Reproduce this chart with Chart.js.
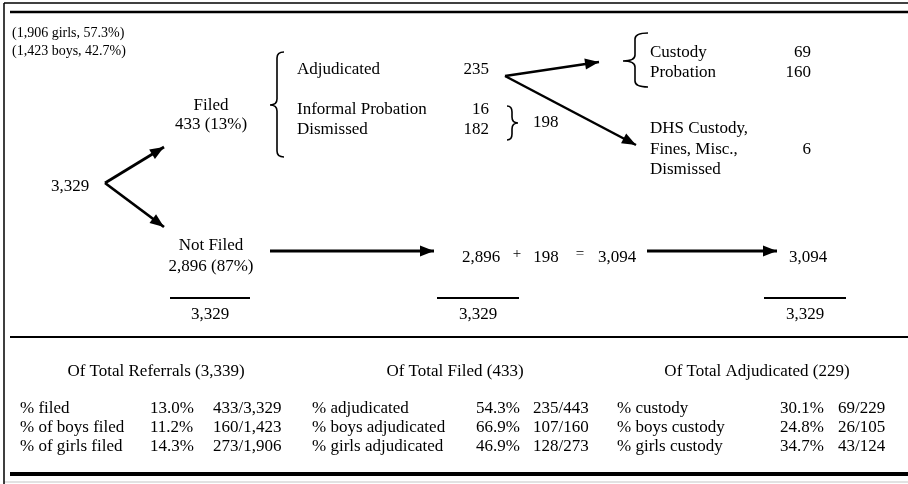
<!DOCTYPE html>
<html>
<head>
<meta charset="utf-8">
<script src="https://cdn.jsdelivr.net/npm/chart.js@4.4.0/dist/chart.umd.min.js"></script>
<style>
html, body { margin: 0; padding: 0; background: #fff; }
</style>
</head>
<body>
<canvas id="g_flujo" width="908" height="484"></canvas>
<script>
// datos
var total_referrals = 3329;
var girls = [1906, 57.3];
var boys = [1423, 42.7];
var filed = [433, 13];
var not_filed = [2896, 87];
var filed_labels = ['Adjudicated', 'Informal Probation', 'Dismissed'];
var filed_counts = [235, 16, 182];
var not_adjudicated = 198;
var adj_labels = ['Custody', 'Probation'];
var adj_counts = [69, 160];
var other_labels = ['DHS Custody,', 'Fines, Misc.,', 'Dismissed'];
var other_count = 6;
var out_of_system = 3094;

var section_titles = ['Of Total Referrals (3,339)', 'Of Total Filed (433)', 'Of Total Adjudicated (229)'];
var row_labels = [
    ['% filed', '% of boys filed', '% of girls filed'],
    ['% adjudicated', '% boys adjudicated', '% girls adjudicated'],
    ['% custody', '% boys custody', '% girls custody']
];
var row_pcts = [
    ['13.0%', '11.2%', '14.3%'],
    ['54.3%', '66.9%', '46.9%'],
    ['30.1%', '24.8%', '34.7%']
];
var row_fracs = [
    ['433/3,329', '160/1,423', '273/1,906'],
    ['235/443', '107/160', '128/273'],
    ['69/229', '26/105', '43/124']
];

function fmt(n) { return n.toLocaleString('en-US'); }

// lineas y flechas (coordenadas del lienzo = valores de las escalas)
function seg(x1, y1, x2, y2, w, color, arrow) {
    return {
        data: [{x: x1, y: y1}, {x: x2, y: y2}],
        showLine: true,
        borderColor: color || '#000',
        borderWidth: w,
        pointRadius: 0,
        arrow: !!arrow
    };
}

var datasets = [
    seg(4, 3, 908, 3, 1.5),
    seg(10, 12, 908, 12, 2.5),
    seg(4, 3, 4, 484, 1.5),
    seg(10, 337, 908, 337, 2),
    seg(10, 474, 908, 474, 4),
    seg(4, 482, 908, 482, 1.5, '#d8d8d8'),
    seg(105, 183, 164, 147, 2.8, '#000', true),
    seg(105, 183, 164, 227, 2.8, '#000', true),
    seg(505, 76, 599, 62, 2.5, '#000', true),
    seg(505, 76, 636, 145, 2.5, '#000', true),
    seg(270, 251, 434, 251, 2.8, '#000', true),
    seg(647, 251, 777, 251, 2.8, '#000', true),
    seg(170, 298, 250, 298, 2),
    seg(437, 298, 519, 298, 2),
    seg(764, 298, 846, 298, 2)
];

var textos = {
    id: 'textos',
    afterDatasetsDraw: function (chart) {
        var c = chart.ctx;
        var xs = chart.scales.x;
        var ys = chart.scales.y;
        var F = 'Liberation Serif, Times New Roman, serif';

        function t(str, x, y, align, size) {
            c.font = (size || 17) + 'px ' + F;
            c.textAlign = align || 'left';
            c.textBaseline = 'middle';
            c.fillStyle = '#000';
            c.fillText(str, xs.getPixelForValue(x), ys.getPixelForValue(y));
        }

        function brace(spine, tip, hook, top, bottom, mid) {
            var X = function (v) { return xs.getPixelForValue(v); };
            var Y = function (v) { return ys.getPixelForValue(v); };
            var r = 6;
            c.beginPath();
            c.moveTo(X(hook), Y(top));
            c.quadraticCurveTo(X(spine), Y(top), X(spine), Y(top + r));
            c.lineTo(X(spine), Y(mid - r));
            c.quadraticCurveTo(X(spine), Y(mid), X(tip), Y(mid));
            c.quadraticCurveTo(X(spine), Y(mid), X(spine), Y(mid + r));
            c.lineTo(X(spine), Y(bottom - r));
            c.quadraticCurveTo(X(spine), Y(bottom), X(hook), Y(bottom));
            c.strokeStyle = '#000';
            c.lineWidth = 1.6;
            c.stroke();
        }

        c.save();

        // puntas de flecha
        chart.data.datasets.forEach(function (ds) {
            if (!ds.arrow) return;
            var a = ds.data[0], b = ds.data[1];
            var x1 = xs.getPixelForValue(a.x), y1 = ys.getPixelForValue(a.y);
            var x2 = xs.getPixelForValue(b.x), y2 = ys.getPixelForValue(b.y);
            var ang = Math.atan2(y2 - y1, x2 - x1);
            var L = 14, W = 5.5;
            c.beginPath();
            c.moveTo(x2, y2);
            c.lineTo(x2 - L * Math.cos(ang) + W * Math.sin(ang), y2 - L * Math.sin(ang) - W * Math.cos(ang));
            c.lineTo(x2 - L * Math.cos(ang) - W * Math.sin(ang), y2 - L * Math.sin(ang) + W * Math.cos(ang));
            c.closePath();
            c.fillStyle = '#000';
            c.fill();
        });

        // llaves
        brace(277, 270, 284, 52, 157, 105);
        brace(635, 623, 648, 33, 87, 61);
        brace(512, 518, 507, 106, 140, 123);

        // diagrama
        t('(' + fmt(girls[0]) + ' girls, ' + girls[1] + '%)', 12, 33, 'left', 14);
        t('(' + fmt(boys[0]) + ' boys, ' + boys[1] + '%)', 12, 51, 'left', 14);
        t(fmt(total_referrals), 70, 187, 'center');
        t('Filed', 211, 106, 'center');
        t(fmt(filed[0]) + ' (' + filed[1] + '%)', 211, 125, 'center');
        t('Not Filed', 211, 246, 'center');
        t(fmt(not_filed[0]) + ' (' + not_filed[1] + '%)', 211, 267, 'center');

        var fy = [70, 110, 130];
        for (var i = 0; i < filed_labels.length; i++) {
            t(filed_labels[i], 297, fy[i], 'left');
            t(fmt(filed_counts[i]), 489, fy[i], 'right');
        }
        t(fmt(not_adjudicated), 533, 123, 'left');

        var ay = [53, 73];
        for (var j = 0; j < adj_labels.length; j++) {
            t(adj_labels[j], 650, ay[j], 'left');
            t(fmt(adj_counts[j]), 811, ay[j], 'right');
        }
        var oy = [129, 150, 170];
        for (var k = 0; k < other_labels.length; k++) {
            t(other_labels[k], 650, oy[k], 'left');
        }
        t(fmt(other_count), 811, 150, 'right');

        t(fmt(not_filed[0]), 481, 258, 'center');
        t('+', 517, 254, 'center', 15);
        t(fmt(not_adjudicated), 546, 258, 'center');
        t('=', 580, 254, 'center', 15);
        t(fmt(out_of_system), 617, 258, 'center');
        t(fmt(out_of_system), 808, 258, 'center');

        t(fmt(total_referrals), 210, 315, 'center');
        t(fmt(total_referrals), 478, 315, 'center');
        t(fmt(total_referrals), 805, 315, 'center');

        // tabla
        var tx = [156, 455, 757];
        var lx = [20, 312, 617];
        var px = [150, 476, 780];
        var qx = [213, 533, 838];
        var ry = [409, 428, 447];
        for (var s = 0; s < 3; s++) {
            t(section_titles[s], tx[s], 372, 'center');
            for (var r = 0; r < 3; r++) {
                t(row_labels[s][r], lx[s], ry[r], 'left');
                t(row_pcts[s][r], px[s], ry[r], 'left');
                t(row_fracs[s][r], qx[s], ry[r], 'left');
            }
        }

        c.restore();
    }
};

var ctx = document.getElementById('g_flujo').getContext('2d');
var myChart = new Chart(ctx, {
    type: 'scatter',
    data: { datasets: datasets },
    options: {
        responsive: false,
        animation: false,
        layout: { padding: 0 },
        scales: {
            x: { type: 'linear', min: 0, max: 908, display: false },
            y: { type: 'linear', min: 0, max: 484, reverse: true, display: false }
        },
        plugins: {
            legend: { display: false },
            tooltip: { enabled: false }
        }
    },
    plugins: [textos]
});
</script>
</body>
</html>
